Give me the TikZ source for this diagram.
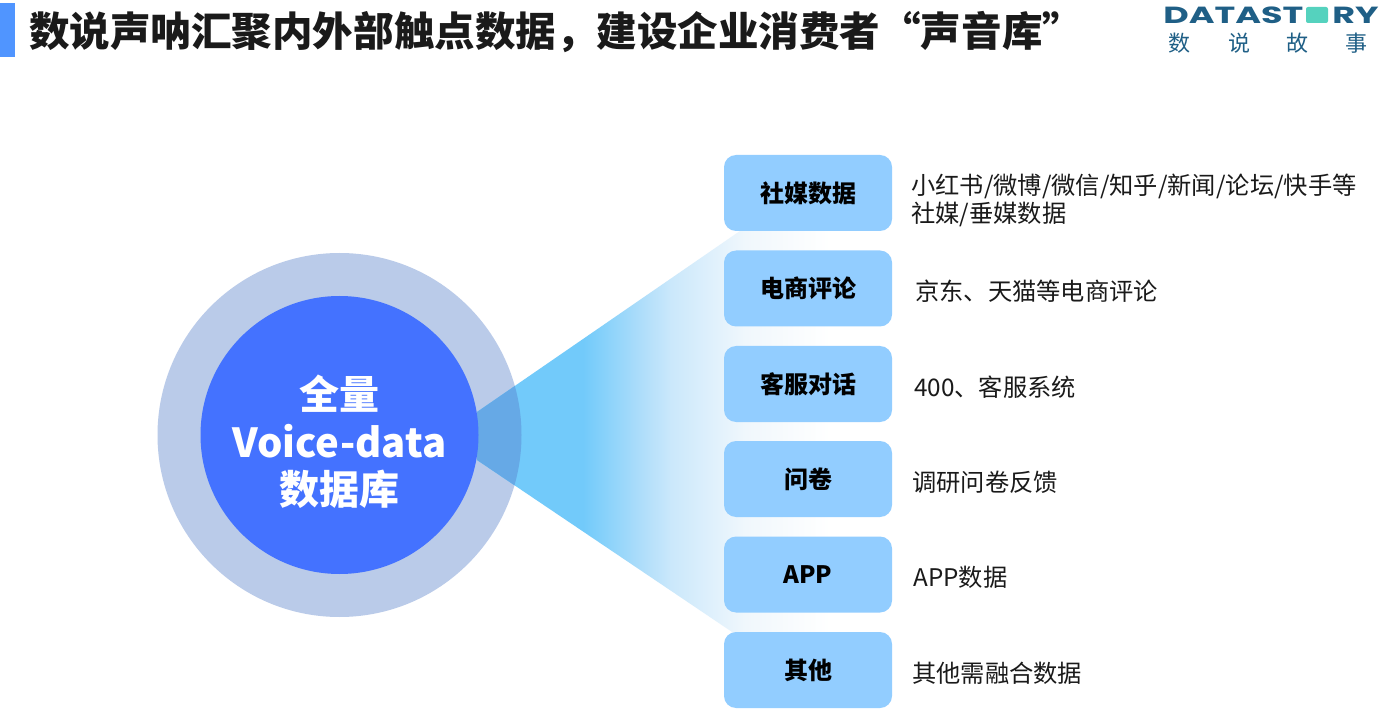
\documentclass[tikz,border=0pt]{standalone}
\usepackage{fontspec}
\setmainfont{Noto Sans CJK SC}
\newfontfamily\logofont{Poppins}
\definecolor{ringc}{HTML}{BACBE9}
\definecolor{corec}{HTML}{4472FF}
\definecolor{boxc}{HTML}{92CDFF}
\definecolor{barc}{HTML}{5095FF}
\definecolor{overlapc}{HTML}{66A9E6}
\definecolor{logoc}{HTML}{1F5F86}
\definecolor{logoteal}{HTML}{55D2BE}
\definecolor{inkc}{HTML}{1A1A1A}
\definecolor{gA}{HTML}{72CAFA}
\definecolor{gB}{HTML}{80CFFA}
\definecolor{gC}{HTML}{B0DEFA}
\definecolor{gD}{HTML}{CBE8FB}
\definecolor{gE}{HTML}{E3F2FC}
\definecolor{gF}{HTML}{F0F7FC}
\pgfdeclarehorizontalshading{coneshade}{100bp}{
color(0bp)=(gA);color(25bp)=(gA);color(40bp)=(gA);color(42bp)=(gB);
color(48.5bp)=(gC);color(52.5bp)=(gD);color(59.4bp)=(gE);color(63bp)=(gF);color(75bp)=(white);color(100bp)=(white)}
\tikzset{
  catbox/.style={fill=boxc,rounded corners=9pt,minimum width=126pt,minimum height=57pt,inner sep=0pt,
    font=\fontsize{18}{20}\selectfont\bfseries,text=black},
  desc/.style={anchor=west,inner sep=0pt,font=\fontsize{18.2}{21}\selectfont,text=inkc,align=left},
  logolatin/.style={anchor=west,inner sep=0pt,text=logoc,font=\logofont\fontsize{17.5}{20}\selectfont\bfseries,xscale=1.5},
  logocn/.style={inner sep=0pt,text=logoc,font=\fontsize{16.5}{20}\selectfont},
}
\begin{document}
\begin{tikzpicture}[x=0.75pt,y=-0.75pt]
\useasboundingbox (0,0) rectangle (1389,727);
\fill[white] (0,0) rectangle (1389,727);
% title
\fill[barc] (0,3) rectangle (15,57);
\node[anchor=west,inner sep=0pt,font=\fontsize{30.4}{32}\selectfont\bfseries,text=inkc] (title) at (29,32)
  {数说声呐汇聚内外部触点数据，建设企业消费者“声音库”};
% logo
\node[logolatin] (logoa) at (1163,15) {DATAST};
\fill[logoteal,rounded corners=1.5pt] (1306,7) rectangle (1328,23);
\node[logolatin] (logob) at (1332,15) {RY};
\node[logocn] (l1) at (1179,43) {数};
\node[logocn] (l2) at (1239,43) {说};
\node[logocn] (l3) at (1297.5,43) {故};
\node[logocn] (l4) at (1356.5,43) {事};
% circle and cone
\fill[ringc] (339.5,435) circle[radius=182];
\shade[shading=coneshade] (477,412) -- (830,169) -- (830,698) -- (477,460) -- cycle;
\begin{scope}
  \clip (339.5,435) circle[radius=182];
  \fill[overlapc] (477,412) -- (830,169) -- (830,698) -- (477,460) -- cycle;
\end{scope}
\node[circle,fill=corec,minimum size=208.5pt,inner sep=0pt] (core) at (339.5,435) {};
\node[text=white,align=center,font=\fontsize{30}{35.6}\selectfont\bfseries] (corelabel) at (339.5,442)
  {全量\\Voice-data\\数据库};
% boxes
\node[catbox] (b1) at (808,193) {社媒数据};
\node[catbox] (b2) at (808,288.5) {电商评论};
\node[catbox] (b3) at (808,384) {客服对话};
\node[catbox] (b4) at (808,479) {问卷};
\node[catbox] (b5) at (808,574.5) {APP};
\node[catbox] (b6) at (808,670) {其他};
% descriptions
\node[desc] (d1) at (911,200.5) {小红书/微博/微信/知乎/新闻/论坛/快手等\\社媒/垂媒数据};
\node[desc] (d2) at (915,291) {京东、天猫等电商评论};
\node[desc] (d3) at (914,387) {400、客服系统};
\node[desc] (d4) at (912,482) {调研问卷反馈};
\node[desc] (d5) at (913,577) {APP数据};
\node[desc] (d6) at (912,673) {其他需融合数据};
\end{tikzpicture}
\end{document}
